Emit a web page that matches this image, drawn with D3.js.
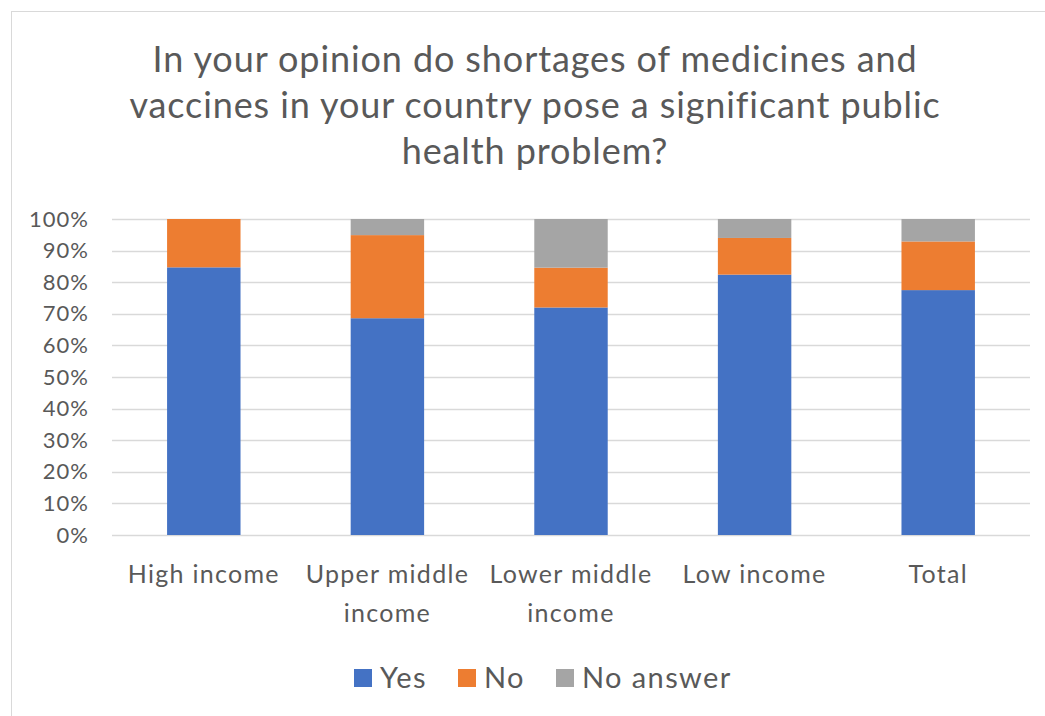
<!DOCTYPE html>
<html>
<head>
<meta charset="utf-8">
<script src="https://cdn.jsdelivr.net/npm/d3@7"></script>
<style>
html, body {
  margin: 0;
  padding: 0;
  background: #fff;
  overflow: hidden;
}
text {
  font-family: Lato, "Open Sans", sans-serif;
  fill: #595959;
}
</style>
</head>
<body>
<script>

var categories = ['High income', 'Upper middle income', 'Lower middle income', 'Low income', 'Total'];
var yes      = [84.7, 68.6, 72.0, 82.4, 77.5];
var no       = [15.3, 26.3, 12.6, 11.6, 15.4];
var noAnswer = [0.0,  5.1,  15.4, 6.0,  7.1];
var seriesNames = ['Yes', 'No', 'No answer'];
var colors = ['#4472C4', '#ED7D31', '#A5A5A5'];
var yTicks = [0, 10, 20, 30, 40, 50, 60, 70, 80, 90, 100];
var titleLines = ['In your opinion do shortages of medicines and',
                  'vaccines in your country pose a significant public',
                  'health problem?'];

var w = 1045, h = 716;
var svg = d3.select('body').append('svg')
  .attr('width', w)
  .attr('height', h);

// chart border, runs off the right and bottom edges like the screenshot
svg.append('rect')
  .attr('x', 11.5).attr('y', 11.5)
  .attr('width', w + 20).attr('height', h + 20)
  .attr('fill', '#fff')
  .attr('stroke', '#d9d9d9');

svg.append('text')
  .attr('text-anchor', 'middle')
  .style('font-size', '36px')
  .style('letter-spacing', '0.9px')
  .selectAll('tspan')
  .data(titleLines)
  .enter().append('tspan')
    .attr('x', 535)
    .attr('y', function(d, i){ return 72 + i * 46; })
    .text(function(d){ return d; });

var x = d3.scaleBand()
  .domain(categories)
  .range([112, 1030])
  .paddingInner(0.6)
  .paddingOuter(0.3);

var y = d3.scaleLinear()
  .domain([0, 100])
  .range([535, 219]);

// gridlines
svg.append('g')
  .selectAll('line')
  .data(yTicks)
  .enter().append('line')
    .attr('x1', 112).attr('x2', 1030)
    .attr('y1', function(d){ return Math.round(y(d)) + 0.5; })
    .attr('y2', function(d){ return Math.round(y(d)) + 0.5; })
    .attr('stroke', '#d9d9d9')
    .attr('stroke-width', 1.5);

var yAxis = svg.append('g')
  .attr('transform', 'translate(89,0)')
  .call(d3.axisLeft(y).tickValues(yTicks).tickSize(0).tickPadding(0)
    .tickFormat(function(d){ return d + '%'; }));
yAxis.select('.domain').remove();
yAxis.selectAll('text')
  .style('font-size', '22px')
  .style('letter-spacing', '1px')
  .style('font-family', 'Lato, sans-serif')
  .attr('fill', '#595959');

var table = categories.map(function(c, i){
  return {cat: c, 'Yes': yes[i], 'No': no[i], 'No answer': noAnswer[i]};
});
var stacked = d3.stack().keys(seriesNames)(table);

svg.append('g')
  .selectAll('g')
  .data(stacked)
  .enter().append('g')
    .attr('fill', function(d, i){ return colors[i]; })
  .selectAll('rect')
  .data(function(d){ return d; })
  .enter().append('rect')
    .attr('x', function(d){ return x(d.data.cat); })
    .attr('width', x.bandwidth())
    .attr('y', function(d){ return y(d[1]); })
    .attr('height', function(d){ return y(d[0]) - y(d[1]); });

// category labels, wrapped like the original
var wrapped = {
  'Upper middle income': ['Upper middle', 'income'],
  'Lower middle income': ['Lower middle', 'income']
};
var xLabels = svg.append('g')
  .selectAll('text')
  .data(categories)
  .enter().append('text')
    .attr('text-anchor', 'middle')
    .style('font-size', '25px')
    .style('letter-spacing', '1.3px');
xLabels.selectAll('tspan')
  .data(function(d){ return wrapped[d] || [d]; })
  .enter().append('tspan')
    .attr('x', function(){ return x(d3.select(this.parentNode).datum()) + x.bandwidth() / 2; })
    .attr('y', function(d, i){ return 583 + i * 39; })
    .text(function(d){ return d; });

// legend
var legendX = [354, 458, 556];
var legend = svg.append('g')
  .selectAll('g')
  .data(seriesNames)
  .enter().append('g')
    .attr('transform', function(d, i){ return 'translate(' + legendX[i] + ',669)'; });
legend.append('rect')
  .attr('width', 18).attr('height', 18)
  .attr('fill', function(d, i){ return colors[i]; });
legend.append('text')
  .attr('x', 26).attr('y', 19)
  .style('font-size', '29px')
  .style('letter-spacing', '1.4px')
  .text(function(d){ return d; });

</script>
</body>
</html>
